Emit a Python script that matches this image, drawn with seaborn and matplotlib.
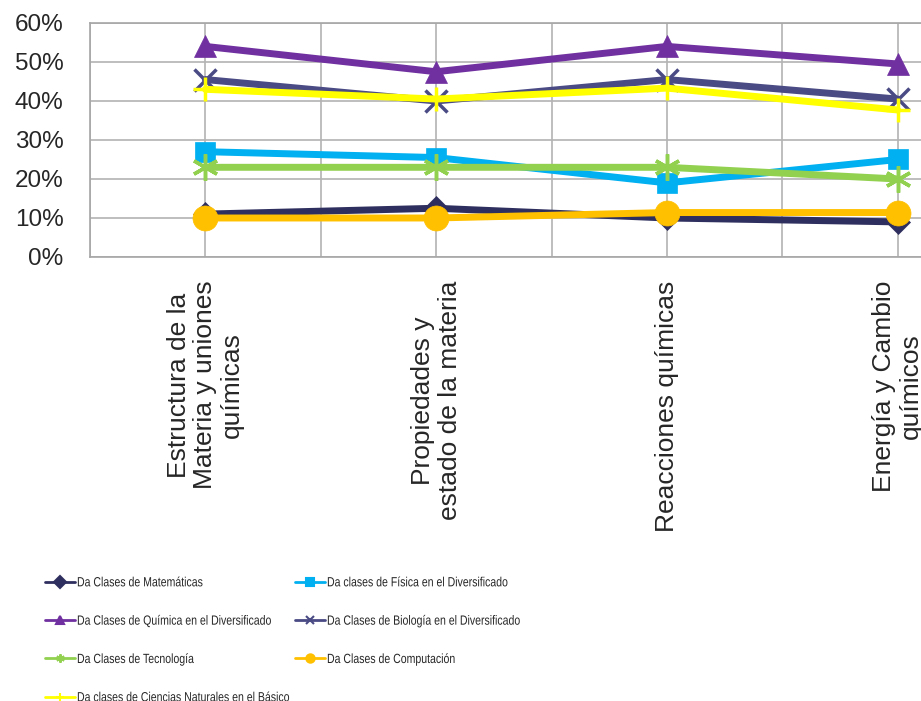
import numpy as np
import pandas as pd
import seaborn as sns
import matplotlib.pyplot as plt
from matplotlib.patheffects import AbstractPathEffect
from matplotlib.transforms import Affine2D
from matplotlib.ticker import PercentFormatter, MultipleLocator

# Categorías del eje x
categorias = [
    "Estructura de la\nMateria y uniones\nquímicas",
    "Propiedades y\nestado de la materia",
    "Reacciones químicas",
    "Energía y Cambio\nquímicos",
]

# Series (porcentajes)
matematicas = [11.0, 12.5, 10.0, 9.0]
fisica = [27.0, 25.5, 19.0, 25.0]
quimica = [54.0, 47.5, 54.0, 49.5]
biologia = [45.5, 40.0, 45.5, 40.5]
tecnologia = [23.0, 23.0, 23.0, 20.0]
computacion = [10.0, 10.0, 11.4, 11.4]
ciencias = [43.0, 40.5, 43.3, 37.7]

series = [
    ("Da Clases de Matemáticas", matematicas, "#2F2F5F", "D", 12),
    ("Da clases de Física en el Diversificado", fisica, "#00B0F0", "s", 15),
    ("Da Clases de Química en el Diversificado", quimica, "#7030A0", "^", 16),
    ("Da Clases de Biología en el Diversificado", biologia, "#4A4A85", "x", 16),
    ("Da Clases de Tecnología", tecnologia, "#92D050", (6, 2, 0), 19),
    ("Da Clases de Computación", computacion, "#FFC000", "o", 18),
    ("Da clases de Ciencias Naturales en el Básico", ciencias, "#FFFF00", "+", 17),
]


# el texto de la leyenda del original está algo comprimido a lo ancho
class Estrechar(AbstractPathEffect):
    def __init__(self, sx):
        super().__init__()
        self.sx = sx

    def draw_path(self, renderer, gc, tpath, affine, rgbFace=None):
        renderer.draw_path(gc, tpath, Affine2D().scale(self.sx, 1) + affine, rgbFace)


sns.set_style("white")
plt.rcParams['font.family'] = ['Liberation Sans', 'DejaVu Sans']

fig = plt.figure(figsize=(9.21, 7.01), dpi=100)
# el área del gráfico se sale por la derecha, como en el original
ax = fig.add_axes([90 / 921, 1 - 257 / 701, 923 / 921, 234 / 701])

pos = np.arange(len(categorias))
for nombre, valores, color, marcador, tam in series:
    sns.lineplot(x=pos, y=valores, ax=ax, color=color, marker=marcador,
                 markersize=tam, linewidth=5, label=nombre,
                 markeredgecolor=color, markeredgewidth=2.5 if marcador in ("x", "+", (6, 2, 0)) else 0.5)

ax.set_xlim(-0.5, len(categorias) - 0.5)
ax.set_ylim(0, 60)
ax.yaxis.set_major_locator(MultipleLocator(10))
ax.yaxis.set_major_formatter(PercentFormatter(xmax=100, decimals=0))
ax.set_xticks(pos)
ax.set_xticklabels(categorias, rotation=90, fontsize=19, ha='center', va='top',
                   multialignment='center', linespacing=1.15)
ax.xaxis.set_minor_locator(MultipleLocator(0.5))
ax.tick_params(axis='x', which='both', length=0, pad=17)
ax.tick_params(axis='y', length=0, pad=19, labelsize=17.5)
ax.grid(True, which='both', axis='both', color='#B3B3B3', linewidth=1.2)
ax.set_axisbelow(True)
for s in ax.spines.values():
    s.set_color('#A6A6A6')
    s.set_linewidth(1.2)
ax.set_xlabel('')
ax.set_ylabel('')

# Leyenda en dos columnas (dos leyendas colocadas a mano)
h, l = ax.get_legend_handles_labels()
ax.get_legend().remove()
columnas = [([0, 2, 4, 6], 45), ([1, 3, 5], 295)]
for indices, x0 in columnas:
    leg = fig.legend([h[i] for i in indices], [l[i] for i in indices],
                     loc='upper left', bbox_to_anchor=(x0 / 921, 1 - 577 / 701),
                     frameon=False, borderpad=0, borderaxespad=0,
                     handlelength=2.25, handletextpad=0.15,
                     labelspacing=1.95, prop={'family': 'Liberation Sans', 'size': 9.6})
    for t in leg.get_texts():
        t.set_path_effects([Estrechar(0.79)])
    for ln in leg.get_lines():
        ln.set_linewidth(2)
        ln.set_markersize(6)
        ln.set_markeredgewidth(1.5)

fig.savefig("out.png", dpi=100)
